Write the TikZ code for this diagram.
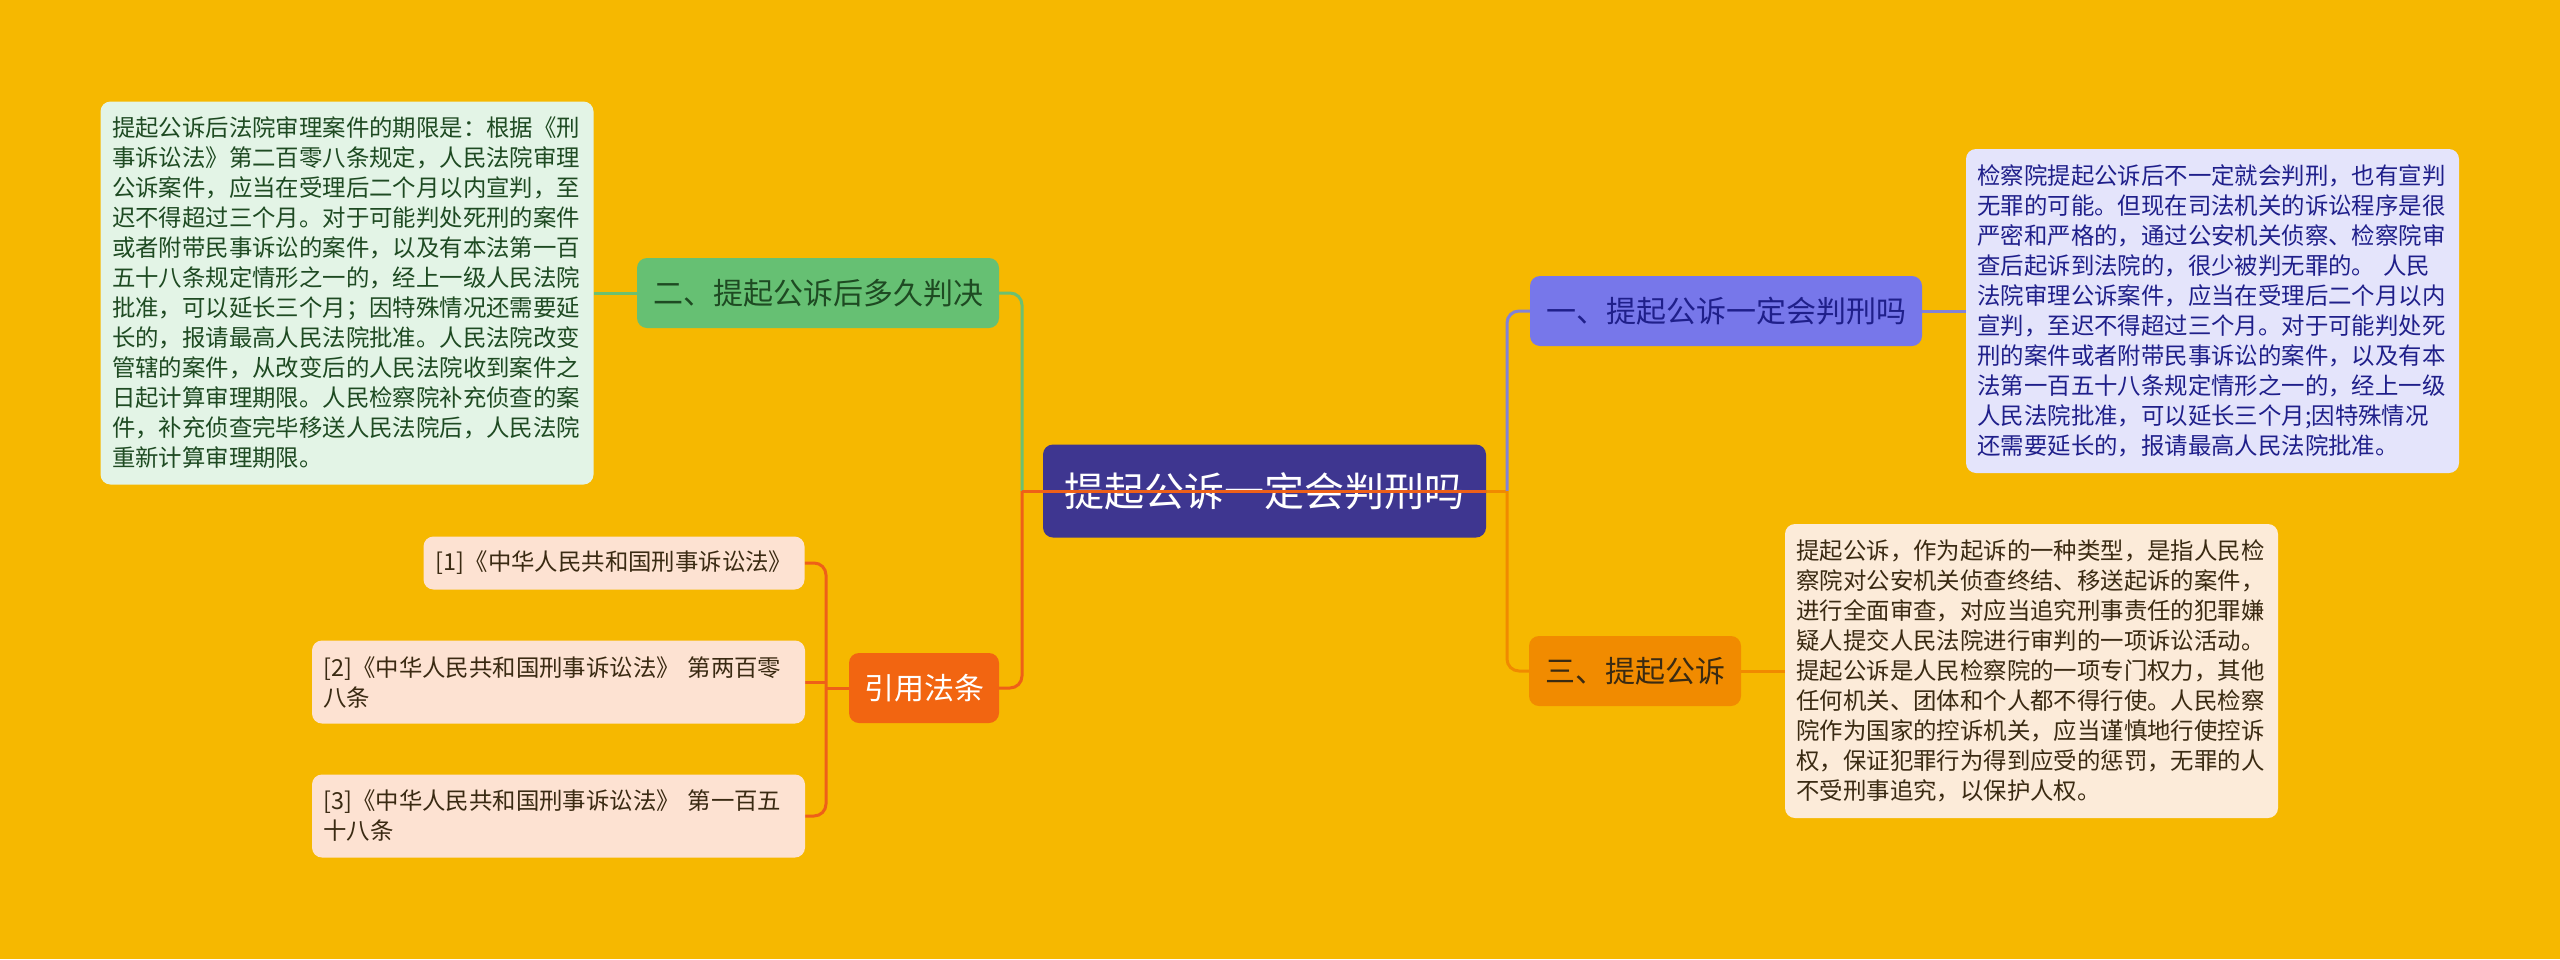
\documentclass[tikz,border=0pt]{standalone}
\usepackage{fontspec}
\setmainfont{Noto Sans CJK SC}
\usetikzlibrary{backgrounds}

\definecolor{mapbg}{HTML}{F6B800}
\definecolor{rootfill}{HTML}{3E3690}
\definecolor{onefill}{HTML}{7777EA}
\definecolor{oneleaf}{HTML}{E4E4FB}
\definecolor{onetext}{HTML}{1F1F8A}
\definecolor{onelink}{HTML}{8282D6}
\definecolor{twofill}{HTML}{66C073}
\definecolor{twoleaf}{HTML}{E3F4E6}
\definecolor{twotext}{HTML}{1E4A22}
\definecolor{twolink}{HTML}{6CC070}
\definecolor{threefill}{HTML}{F18B00}
\definecolor{threeleaf}{HTML}{FCEBD9}
\definecolor{threetext}{HTML}{3A2A12}
\definecolor{threelink}{HTML}{F08A00}
\definecolor{reffill}{HTML}{F26511}
\definecolor{refleaf}{HTML}{FDE2D2}
\definecolor{reflink}{HTML}{EE6018}

\begin{document}
\begin{tikzpicture}[x=1pt, y=-1pt,
    % boxes of the mind map
    rootnode/.style={fill=rootfill, text=white, rounded corners=10pt,
        minimum width=443pt, minimum height=93pt,
        font=\fontsize{40}{48}\selectfont},
    topic/.style={rounded corners=10pt, minimum height=70pt, inner xsep=16pt,
        font=\fontsize{30}{36}\selectfont},
    leaf/.style={rounded corners=10pt, align=left, text width=470pt,
        inner xsep=11.5pt, inner ysep=0pt,
        font=\fontsize{23.4}{30}\selectfont},
    link/.style={line width=3pt, rounded corners=12pt}
]

\useasboundingbox (0,0) rectangle (2560,959);

% 1. Central topic
\node[rootnode] (root) at (1264.5, 491) {提起公诉一定会判刑吗};

% 2. Right side: 一 and 三
\node[topic, fill=onefill, text=onetext] (one) at (1726, 311) {一、提起公诉一定会判刑吗};
\node[leaf, fill=oneleaf, text=onetext, minimum height=324pt] (oneleaf) at (2212.5, 311)
    {检察院提起公诉后不一定就会判刑，也有宣判\\
     无罪的可能。但现在司法机关的诉讼程序是很\\
     严密和严格的，通过公安机关侦察、检察院审\\
     查后起诉到法院的，很少被判无罪的。 人民\\
     法院审理公诉案件，应当在受理后二个月以内\\
     宣判，至迟不得超过三个月。对于可能判处死\\
     刑的案件或者附带民事诉讼的案件，以及有本\\
     法第一百五十八条规定情形之一的，经上一级\\
     人民法院批准，可以延长三个月;因特殊情况\\
     还需要延长的，报请最高人民法院批准。};

\node[topic, fill=threefill, text=threetext] (three) at (1635, 671) {三、提起公诉};
\node[leaf, fill=threeleaf, text=threetext, minimum height=294pt] (threeleaf) at (2031.5, 671)
    {提起公诉，作为起诉的一种类型，是指人民检\\
     察院对公安机关侦查终结、移送起诉的案件，\\
     进行全面审查，对应当追究刑事责任的犯罪嫌\\
     疑人提交人民法院进行审判的一项诉讼活动。\\
     提起公诉是人民检察院的一项专门权力，其他\\
     任何机关、团体和个人都不得行使。人民检察\\
     院作为国家的控诉机关，应当谨慎地行使控诉\\
     权，保证犯罪行为得到应受的惩罚，无罪的人\\
     不受刑事追究，以保护人权。};

% 3. Left side: 二 and the cited articles
\node[topic, fill=twofill, text=twotext] (two) at (818, 293) {二、提起公诉后多久判决};
\node[leaf, fill=twoleaf, text=twotext, minimum height=383pt] (twoleaf) at (347, 293)
    {提起公诉后法院审理案件的期限是：根据《刑\\
     事诉讼法》第二百零八条规定，人民法院审理\\
     公诉案件，应当在受理后二个月以内宣判，至\\
     迟不得超过三个月。对于可能判处死刑的案件\\
     或者附带民事诉讼的案件，以及有本法第一百\\
     五十八条规定情形之一的，经上一级人民法院\\
     批准，可以延长三个月；因特殊情况还需要延\\
     长的，报请最高人民法院批准。人民法院改变\\
     管辖的案件，从改变后的人民法院收到案件之\\
     日起计算审理期限。人民检察院补充侦查的案\\
     件，补充侦查完毕移送人民法院后，人民法院\\
     重新计算审理期限。};

\node[topic, fill=reffill, text=white, inner xsep=15pt] (refs) at (924, 688) {引用法条};
\node[leaf, fill=refleaf, text=threetext, text width=358pt, align=center, minimum height=53pt] (ref1) at (614, 563)
    {[1]《中华人民共和国刑事诉讼法》};
\node[leaf, fill=refleaf, text=threetext, minimum height=83pt] (ref2) at (558.5, 682)
    {[2]《中华人民共和国刑事诉讼法》 第两百零\\八条};
\node[leaf, fill=refleaf, text=threetext, minimum height=83pt] (ref3) at (558.5, 816)
    {[3]《中华人民共和国刑事诉讼法》 第一百五\\十八条};

% 4. Connectors
\coordinate (ltrunk) at (1022, 491);
\coordinate (rtrunk) at (1507, 491);
\coordinate (reftrunk) at (826, 688);

\begin{scope}[on background layer]
    \fill[mapbg] (0,0) rectangle (2560,959);
    % right branches
    \draw[link, threelink] (root.east) -- (rtrunk);
    \draw[link, onelink] (rtrunk) |- (one.west);
    \draw[link, threelink] (rtrunk) |- (three.west);
    \draw[link, onelink] (one.east) -- (oneleaf.west);
    \draw[link, threelink] (three.east) -- (threeleaf.west);
    % left branches
    \draw[link, twolink] (ltrunk) |- (two.east);
    \draw[link, reflink] (ltrunk) |- (refs.east);
    \draw[link, twolink] (two.west) -- (twoleaf.east);
    \draw[link, reflink] (refs.west) -- (reftrunk);
    \draw[link, reflink] (reftrunk) |- (ref1.east);
    \draw[link, reflink] (reftrunk) |- (ref3.east);
    \draw[link, reflink] (ref2.east -| reftrunk) -- (ref2.east);
\end{scope}

% the left connector runs across the central box
\draw[link, reflink] (root.east) -- (ltrunk);

\end{tikzpicture}
\end{document}
